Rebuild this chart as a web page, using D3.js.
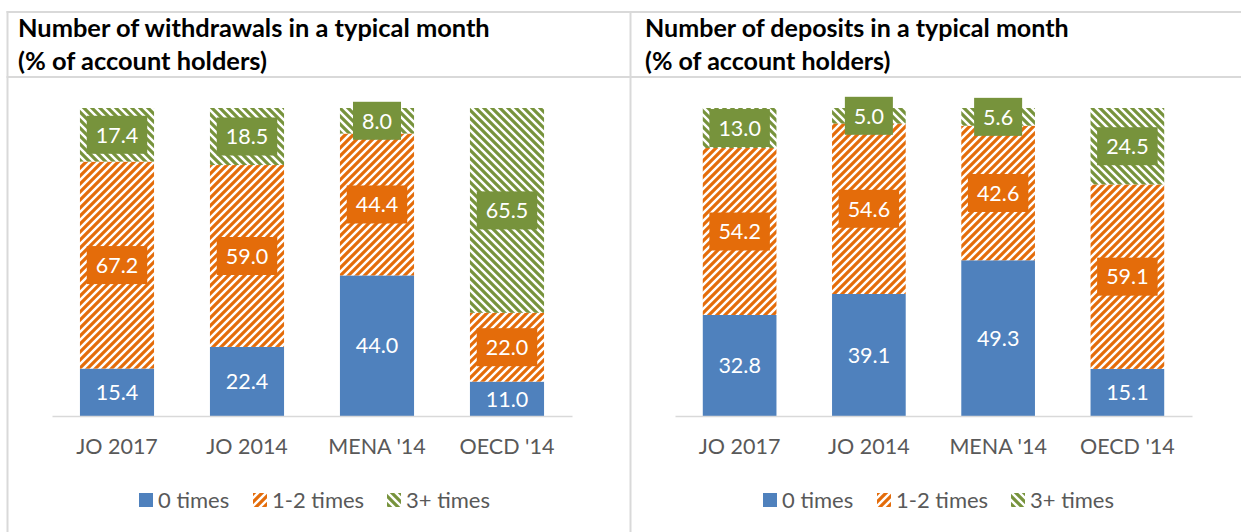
<!DOCTYPE html>
<html><head><meta charset="utf-8">
<script src="https://cdn.jsdelivr.net/npm/d3@7"></script>
<style>
html,body{margin:0;padding:0;background:#fff;}
svg{display:block;font-family:Lato,"Open Sans",sans-serif;}
</style></head>
<body>
<svg id="chart" width="1241" height="532"></svg>
<script>
const categories = ["JO 2017", "JO 2014", "MENA '14", "OECD '14"];
const seriesNames = ["0 times", "1-2 times", "3+ times"];
const withdrawals0 = [15.4, 22.4, 44.0, 11.0];
const withdrawals12 = [67.2, 59.0, 44.4, 22.0];
const withdrawals3 = [17.4, 18.5, 8.0, 65.5];
const deposits0 = [32.8, 39.1, 49.3, 15.1];
const deposits12 = [54.2, 54.6, 42.6, 59.1];
const deposits3 = [13.0, 5.0, 5.6, 24.5];
const titles = [
  ["Number of withdrawals in a typical month", "(% of account holders)"],
  ["Number of deposits in a typical month", "(% of account holders)"]
];

const svg = d3.select("#chart");
const defs = svg.append("defs");
const colors = ["#4F81BD", "#E46C0A", "#77933C"];

function hatch(id, color, dir) {
  const p = defs.append("pattern").attr("id", id).attr("patternUnits", "userSpaceOnUse")
    .attr("width", 8).attr("height", 8);
  p.append("rect").attr("width", 8).attr("height", 8).attr("fill", "#fff");
  const d = dir === "up" ? "M-2,2 L2,-2 M0,8 L8,0 M6,10 L10,6" : "M-2,6 L2,10 M0,0 L8,8 M6,-2 L10,2";
  p.append("path").attr("d", d).attr("stroke", color).attr("stroke-width", 3.2).attr("fill", "none");
}
hatch("hOrange", colors[1], "up");
hatch("hGreen", colors[2], "down");
const fills = [colors[0], "url(#hOrange)", "url(#hGreen)"];

// frame lines
const gridC = "#D9D9D9";
svg.append("line").attr("x1", 7.5).attr("x2", 7.5).attr("y1", 11).attr("y2", 532).attr("stroke", gridC).attr("stroke-width", 2);
svg.append("line").attr("x1", 630.5).attr("x2", 630.5).attr("y1", 11).attr("y2", 532).attr("stroke", gridC).attr("stroke-width", 2);
svg.append("line").attr("x1", 6.5).attr("x2", 1241).attr("y1", 12).attr("y2", 12).attr("stroke", gridC).attr("stroke-width", 2);
svg.append("line").attr("x1", 6.5).attr("x2", 1241).attr("y1", 77).attr("y2", 77).attr("stroke", gridC).attr("stroke-width", 2);

function drawChart(offsetX, range, s0, s12, s3, title, legendX, titleW) {
  const g = svg.append("g");
  const t1 = g.append("text").attr("x", offsetX).attr("y", 37).attr("font-size", 21.5).attr("font-weight", "bold")
    .attr("fill", "#000").text(title[0]);
  const fs = 21.5 * titleW / t1.node().getComputedTextLength();
  t1.attr("font-size", fs);
  g.append("text").attr("x", offsetX).attr("y", 70).attr("font-size", fs).attr("font-weight", "bold")
    .attr("fill", "#000").text(title[1]);

  const data = categories.map((c, i) => ({cat: c, s0: s0[i], s1: s12[i], s2: s3[i]}));
  const stack = d3.stack().keys(["s0", "s1", "s2"]).offset(d3.stackOffsetExpand);
  const series = stack(data);
  const x = d3.scaleBand().domain(categories).range(range).paddingInner(0.43).paddingOuter(0.215);
  const y = d3.scaleLinear().domain([0, 1]).range([416, 108]);

  series.forEach((s, si) => {
    g.append("g").selectAll("rect").data(s).join("rect")
      .attr("x", d => x(d.data.cat)).attr("width", x.bandwidth())
      .attr("y", d => y(d[1])).attr("height", d => y(d[0]) - y(d[1]))
      .attr("fill", fills[si]);
  });
  // axis
  const ax = g.append("g").attr("transform", "translate(0,416)")
    .call(d3.axisBottom(x).tickSize(0).tickSizeOuter(0).tickPadding(23));
  ax.select(".domain").attr("stroke", gridC).attr("stroke-width", 1.5);
  ax.selectAll("text").attr("font-size", 21.5).attr("fill", "#595959").attr("font-family", "Lato,'Open Sans',sans-serif");

  // labels
  const raw = [s0, s12, s3];
  series.forEach((s, si) => {
    s.forEach((d, i) => {
      const cx = x(d.data.cat) + x.bandwidth() / 2;
      const cy = (y(d[0]) + y(d[1])) / 2;
      const lg = g.append("g");
      const t = lg.append("text").attr("x", cx).attr("y", cy).attr("dy", "0.36em")
        .attr("text-anchor", "middle").attr("font-size", 21.5).attr("fill", "#fff")
        .text(raw[si][i].toFixed(1));
      const w = t.node().getComputedTextLength();
      if (si > 0) {
        lg.insert("rect", "text").attr("x", cx - w / 2 - 9).attr("width", w + 18)
          .attr("y", cy - 19).attr("height", 38).attr("fill", colors[si]);
      }
    });
  });

  // legend
  const leg = g.append("g").attr("transform", `translate(${legendX},0)`);
  const offs = [0, 114, 248];
  seriesNames.forEach((n, i) => {
    leg.append("rect").attr("x", offs[i]).attr("y", 493).attr("width", 14).attr("height", 14).attr("fill", fills[i]);
    leg.append("text").attr("x", offs[i] + 19).attr("y", 508).attr("font-size", 22).attr("fill", "#595959").text(n);
  });
}

drawChart(18, [52, 572], withdrawals0, withdrawals12, withdrawals3, titles[0], 139, 472);
drawChart(645, [675, 1192], deposits0, deposits12, deposits3, titles[1], 763, 424);
</script>
</body></html>
